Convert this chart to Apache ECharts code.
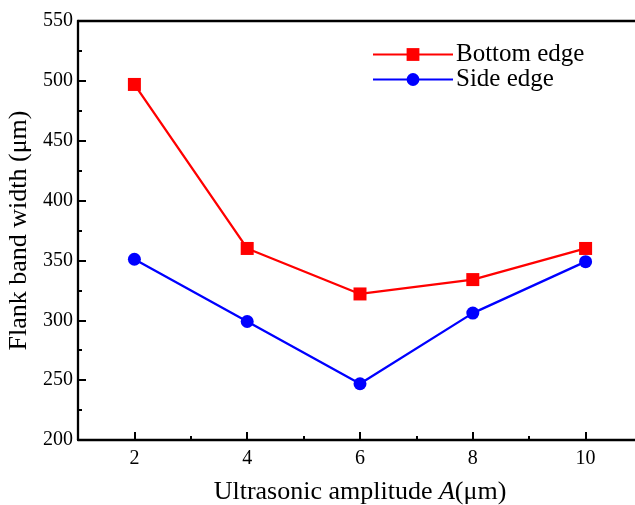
<!DOCTYPE html>
<html>
<head>
<meta charset="utf-8">
<script src="https://cdn.jsdelivr.net/npm/echarts@6/dist/echarts.min.js"></script>
<style>html,body{margin:0;padding:0;background:#fff}#c{width:635px;height:505px}</style>
</head>
<body>
<div id="c"></div>
<script>
var amplitudes = [2, 4, 6, 8, 10];
var bottomEdge = [497, 360, 322, 334, 360];
var sideEdge = [351, 299, 247, 306, 349];
var xTickLabels = [2, 4, 6, 8, 10];
var xMinorTicks = [3, 5, 7, 9];

var font = 'Liberation Serif';
var chart = echarts.init(document.getElementById('c'));
function pairs(xs, ys){ return xs.map(function(x,i){ return [x, ys[i]]; }); }
chart.setOption({
  animation: false,
  grid: {left: 78, top: 21, right: -7, bottom: 65, outerBoundsMode: 'none', containLabel: false, show: false},
  legend: {
    orient: 'vertical', left: 367, top: 37, itemWidth: 80, itemHeight: 16, itemGap: 0,
    textStyle: {fontFamily: font, fontSize: 25, color: '#000', padding: [0,0,0,-2]},
    data: ['Bottom edge', 'Side edge']
  },
  xAxis: [{
    type: 'value', min: 1, max: 11, position: 'bottom',
    name: '{n|Ultrasonic amplitude }{i|A}{n|(μm)}', nameLocation: 'middle', nameGap: 39,
    nameTextStyle: {rich: {n: {fontFamily: font, fontSize: 26, color: '#000'}, i: {fontFamily: font, fontSize: 26, fontStyle: 'italic', color: '#000'}}},
    axisLine: {lineStyle: {color: '#000', width: 2.3}},
    axisTick: {inside: true, length: 8, customValues: xTickLabels, lineStyle: {color: '#000', width: 2}},
    axisLabel: {customValues: xTickLabels, margin: 9, fontFamily: font, fontSize: 20, color: '#000'},
    splitLine: {show: false}
  }, {
    type: 'value', min: 1, max: 11, position: 'bottom', gridIndex: 0,
    axisLine: {show: false},
    axisTick: {inside: true, length: 4, customValues: xMinorTicks, lineStyle: {color: '#000', width: 2}},
    axisLabel: {show: false},
    splitLine: {show: false}
  }, {
    type: 'value', min: 1, max: 11, position: 'top', gridIndex: 0,
    axisLine: {show: true, lineStyle: {color: '#000', width: 2.3}},
    axisTick: {show: false},
    axisLabel: {show: false},
    splitLine: {show: false}
  }],
  yAxis: {
    type: 'value', min: 200, max: 550, interval: 50,
    name: 'Flank band width (μm)', nameLocation: 'middle', nameGap: 39,
    nameTextStyle: {fontFamily: font, fontSize: 26, color: '#000'},
    axisLine: {show: true, lineStyle: {color: '#000', width: 2.3}},
    axisTick: {inside: true, length: 8, lineStyle: {color: '#000', width: 2}},
    minorTick: {show: true, splitNumber: 2, length: 4, lineStyle: {color: '#000', width: 2}},
    axisLabel: {margin: 5, fontFamily: font, fontSize: 20, color: '#000'},
    splitLine: {show: false}
  },
  series: [{
    name: 'Bottom edge', type: 'line', data: pairs(amplitudes, bottomEdge),
    symbol: 'rect', symbolSize: 13, lineStyle: {color: '#ff0000', width: 2.3}, itemStyle: {color: '#ff0000'}
  }, {
    name: 'Side edge', type: 'line', data: pairs(amplitudes, sideEdge),
    symbol: 'circle', symbolSize: 13, lineStyle: {color: '#0000ff', width: 2.3}, itemStyle: {color: '#0000ff'}
  }]
});
</script>
</body>
</html>
